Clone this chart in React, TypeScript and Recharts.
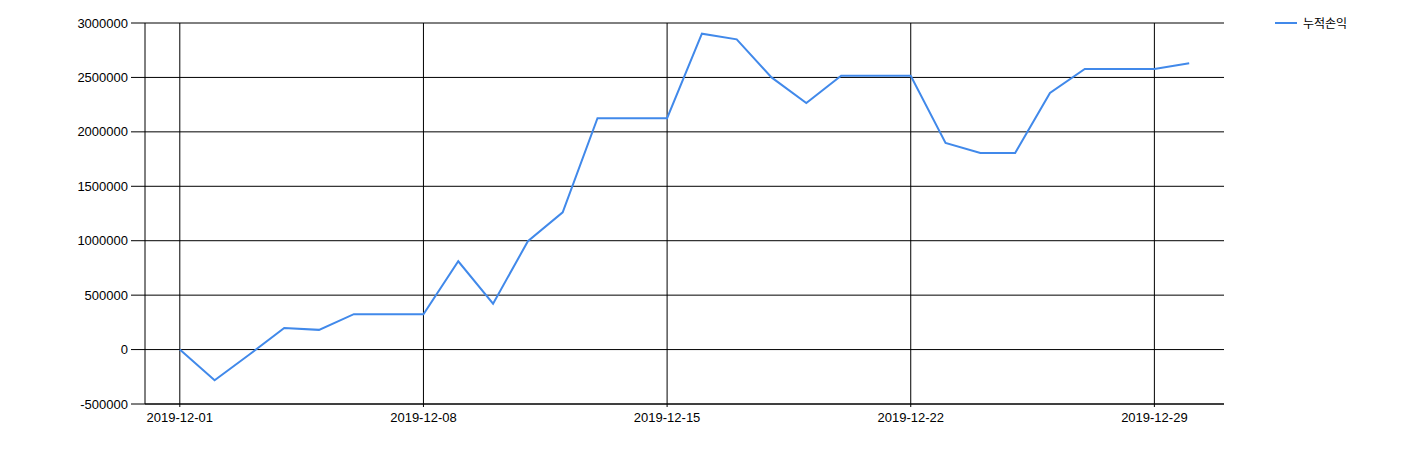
import React from "react";
import { LineChart, Line, XAxis, YAxis, CartesianGrid, ReferenceLine } from "recharts";

const dates = [
  "2019-12-01","2019-12-02","2019-12-03","2019-12-04","2019-12-05","2019-12-06","2019-12-07","2019-12-08",
  "2019-12-09","2019-12-10","2019-12-11","2019-12-12","2019-12-13","2019-12-14","2019-12-15","2019-12-16",
  "2019-12-17","2019-12-18","2019-12-19","2019-12-20","2019-12-21","2019-12-22","2019-12-23","2019-12-24",
  "2019-12-25","2019-12-26","2019-12-27","2019-12-28","2019-12-29","2019-12-30",
];
const pnl = [
  0, -282000, -45000, 199000, 181000, 325000, 325000, 325000,
  811000, 422000, 995000, 1261000, 2125000, 2125000, 2125000, 2902000,
  2850000, 2500000, 2265000, 2515000, 2515000, 2515000, 1898000, 1806000,
  1806000, 2357000, 2578000, 2578000, 2578000, 2630000,
];
const seriesName = "누적손익";
const xTickDates = ["2019-12-01", "2019-12-08", "2019-12-15", "2019-12-22", "2019-12-29"];
const yTicks = [-500000, 0, 500000, 1000000, 1500000, 2000000, 2500000, 3000000];

const dayOf = (s: string) => Number(s.slice(8, 10));
const data = dates.map((d, i) => ({ day: dayOf(d), value: pnl[i] }));
const xTicks = xTickDates.map(dayOf);
const fmtDay = (v: number) => `2019-12-${String(v).padStart(2, "0")}`;

const LINE_COLOR = "#4189ea";
const tickStyle = { fill: "#000", fontSize: 13, fontFamily: "'Liberation Sans', Arial, sans-serif" };

export default function App() {
  return (
    <div style={{ position: "relative", width: 1392, height: 441 }}>
      <LineChart
        width={1392}
        height={441}
        data={data}
        margin={{ top: 15, right: 176, bottom: 15, left: 0 }}
      >
        <CartesianGrid stroke="#000" strokeWidth={1} vertical={false} />
        {xTicks.map((t) => (
          <ReferenceLine key={t} x={t} stroke="#000" strokeWidth={1} />
        ))}
        <XAxis
          dataKey="day"
          type="number"
          domain={[0, 31]}
          ticks={xTicks}
          tickFormatter={fmtDay}
          interval={0}
          height={30}
          stroke="#000"
          tickSize={3}
          tickMargin={6}
          tick={tickStyle}
        />
        <YAxis
          type="number"
          domain={[-500000, 3000000]}
          ticks={yTicks}
          interval={0}
          width={137}
          stroke="#000"
          tickSize={14}
          tickMargin={3}
          tick={tickStyle}
        />
        <Line
          type="linear"
          dataKey="value"
          name={seriesName}
          stroke={LINE_COLOR}
          strokeWidth={2}
          dot={false}
          isAnimationActive={false}
        />
      </LineChart>
      <div style={{ position: "absolute", top: 8, left: 1267, display: "flex", alignItems: "center" }}>
        <svg width={24} height={14} style={{ display: "block" }}>
          <line x1={0} y1={7} x2={22} y2={7} stroke={LINE_COLOR} strokeWidth={2} />
        </svg>
        <span style={{ marginLeft: 4, fontSize: 12, fontFamily: "'Noto Sans CJK KR', sans-serif", color: "#000", lineHeight: "14px" }}>
          {seriesName}
        </span>
      </div>
    </div>
  );
}
